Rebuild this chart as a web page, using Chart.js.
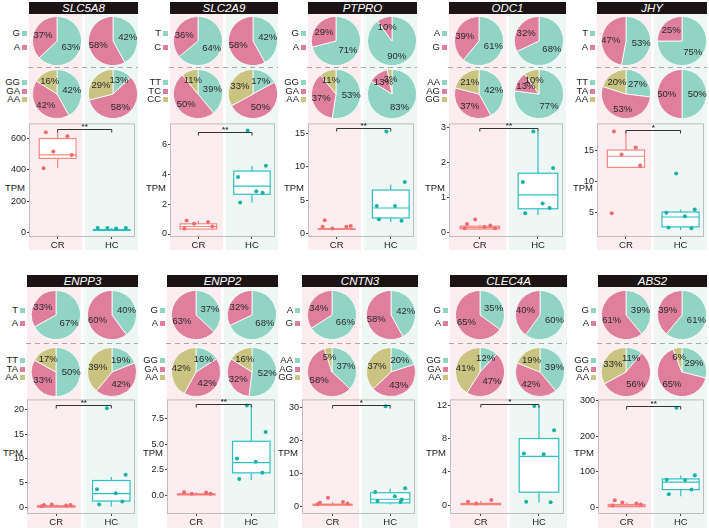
<!DOCTYPE html>
<html><head><meta charset="utf-8">
<script src="https://cdn.jsdelivr.net/npm/chart.js@4.4.0/dist/chart.umd.min.js"></script>
<style>
body{margin:0;background:#fff;}
#root{position:relative;width:709px;height:528px;overflow:hidden;font-family:"Liberation Sans",Arial,sans-serif;background:#fff;}
canvas{display:block;}
</style></head><body><div id="root"></div>
<script>
// ---------------- DATA ----------------
const genes = ["SLC5A8","SLC2A9","PTPRO","ODC1","JHY","ENPP3","ENPP2","CNTN3","CLEC4A","ABS2"];
const groups = ["CR","HC"];
const alleleNames = [["G","A"],["T","C"],["G","A"],["A","G"],["T","A"],["T","A"],["G","A"],["A","G"],["G","A"],["G","A"]];
const genoNames = [["GG","GA","AA"],["TT","TC","CC"],["GG","GA","AA"],["AA","AG","GG"],["TT","TA","AA"],
                   ["TT","TA","AA"],["GG","GA","AA"],["AA","AG","GG"],["GG","GA","AA"],["GG","GA","AA"]];
const alleleCR = [[63,37],[64,36],[71,29],[61,39],[53,47],[67,33],[37,63],[66,34],[35,65],[39,61]];
const alleleHC = [[42,58],[42,58],[90,10],[68,32],[75,25],[40,60],[68,32],[42,58],[60,40],[61,39]];
const genoCR = [[42,42,16],[39,50,11],[53,37,11],[42,37,21],[27,53,20],[50,33,17],[16,42,42],[37,58,5],[12,47,41],[11,56,33]];
const genoHC = [[13,58,29],[17,50,33],[83,13,3],[77,13,10],[50,50,0],[19,42,39],[52,32,16],[20,43,37],[39,42,19],[29,65,6]];
// box stats: [min, q1, median, q3, max]
const boxCR = [[410,473,496,600,640],[0.3,0.33,0.5,0.68,0.9],[0.5,0.6,0.65,0.7,0.8],[0.08,0.1,0.14,0.18,0.22],[12.2,12.2,14.0,15.0,18.0],
               [0.0,0.05,0.2,0.35,0.6],[0.0,0.03,0.08,0.14,0.3],[0.1,0.3,0.45,0.6,1.3],[0.0,0.05,0.12,0.2,0.5],[1,2,4,8,14]];
const boxHC = [[10,12,15,17,27],[2.1,2.65,3.2,4.2,4.55],[1.7,2.3,3.8,6.5,7.3],[0.5,0.68,1.08,1.7,2.9],[2.1,2.6,4.2,5.0,5.4],
               [0.2,1.3,2.8,5.5,6.2],[1.5,2.2,3.2,5.3,8.8],[0.5,1.0,2.1,4.1,5.3],[0.3,1.55,5.85,8.0,11.9],[31,50,71,80,90]];
const ptsCR = [[640,615,517,494,410],[0.9,0.8,0.68,0.5,0.37],[1.98,1.0,0.74,1.09,1.0],[0.24,0.2,0.37,0.12,0.12,0.16],[18.0,15.4,14.3,12.5,4.8],
               [0.5,0.4,0.6,0.5,0.3],[0.3,0.26,0.16,0.16],[1.0,1.3,2.6,0.8,0.6],[0.4,0.6,0.2],[20,11,14,8,5]];
const ptsHC = [[27,27,27,25],[6.9,4.55,3.8,2.85,2.75,2.1],[15.3,7.7,4.1,4.1,1.9,2.1],[2.9,1.85,1.45,0.83,0.7,0.55],[11.2,5.4,4.9,4.3,2.4,2.5],
               [20.3,6.7,3.7,2.9,1.2,0.6],[8.8,6.2,3.6,3.3,2.2,1.6],[30.5,5.5,4.3,3.0,2.0,1.6,1.3],[11.9,9.0,6.2,6.1,0.35,0.4],[280,90,78,77,50,37]];
const yMin = [-30,-0.2,-0.55,-0.13,0.97,-1.35,-1.84,-2.4,-1.07,-18.6];
const yMax = [697,7.38,16.5,3.13,19.3,22.1,9.41,32.6,12.7,303.6];
const yTicks = [[0,200,400,600],[0,2,4,6],[0,5,10,15],[0,1,2,3],[5,10,15],[0,5,10,15,20],[0,2.5,5,7.5],[0,10,20,30],[0,4,8,12],[0,100,200,300]];
const yDecimals = [0,0,0,0,0,0,1,0,0,0];
const sigLabel = ["**","**","**","**","*","**","**","*","*","**"];
const sigY = [661,6.8,15.75,3.0,18.3,20.9,8.95,31.0,12.1,286];
const yTitle = "TPM";

// ---------------- STYLE / LAYOUT ----------------
const FONT = '"Liberation Sans", Arial, sans-serif';
const PIE_COLORS = ['#92d4c4','#df7e9d','#c9c482'];
const BG_CR = '#fcedf0', BG_HC = '#eef7f4';
const BOX_CR = 'rgba(246,118,112,0.85)', BOX_HC = '#2fbfc5';
const PT_CR = '#ee6b6e', PT_HC = '#17b1a6';
const JIT = [-0.22,0.18,-0.08,0.26,-0.26,0.08,0.2];
const ROWS = [
  {title:2, pie1:41, dash:67, pie2:94, leg1:[33,47], leg2:[82,91,99], boxTop:122, boxBot:237, bgTop:14, bgBot:250, tpm:188},
  {title:275, pie1:315, dash:343, pie2:372, leg1:[310,323], leg2:[360,368.5,377], boxTop:398, boxBot:514, bgTop:287, bgBot:528, tpm:453}
];
const PANELS = [[29,109],[170,108],[308,109],[449,117],[597,110],[27,111],[167,111],[302,116],[450,117],[598,109]];

const root = document.getElementById('root');
function el(tag, style, html){
  const e = document.createElement(tag);
  e.style.cssText = 'position:absolute;' + style;
  if (html !== undefined) e.textContent = html;
  root.appendChild(e); return e;
}

const pieLabels = {
  id:'pieLabels',
  afterDatasetsDraw(chart){
    const ctx = chart.ctx, ds = chart.data.datasets[0];
    chart.getDatasetMeta(0).data.forEach((arc,i)=>{
      const v = ds.data[i]; if (!v) return;
      const a = (arc.startAngle + arc.endAngle)/2;
      const r = arc.outerRadius * 0.62;
      ctx.save();
      ctx.font = '9.5px ' + FONT; ctx.fillStyle = '#2a2a2a';
      ctx.textAlign = 'center'; ctx.textBaseline = 'middle';
      ctx.fillText(v + '%', arc.x + Math.cos(a)*r, arc.y + Math.sin(a)*r + 0.5);
      ctx.restore();
    });
  }
};

function pie(cx, cy, vals){
  const c = document.createElement('canvas');
  c.width = 54; c.height = 54;
  c.style.cssText = `position:absolute;left:${cx-27}px;top:${cy-27}px;width:54px;height:54px`;
  root.appendChild(c);
  new Chart(c, {
    type:'pie',
    data:{labels:vals.map((_,k)=>String(k)), datasets:[{data:vals, backgroundColor:PIE_COLORS.slice(0,vals.length), borderColor:'#fff', borderWidth:0.8}]},
    options:{responsive:false, animation:false, devicePixelRatio:1, layout:{padding:2},
      plugins:{legend:{display:false}, tooltip:{enabled:false}}},
    plugins:[pieLabels]
  });
}

function legend(text, color, px, y){
  const d = el('div', `left:${px-44}px;top:${y-5}px;width:42px;height:10px;line-height:10px;text-align:right;font-size:9.5px;color:#1a1a1a;white-space:nowrap`);
  d.textContent = text;
  const s = document.createElement('span');
  s.style.cssText = `display:inline-block;width:5px;height:5px;margin-left:2px;vertical-align:0px;background:${color}`;
  d.appendChild(s);
}

const boxPlugin = {
  id:'boxes',
  beforeDatasetsDraw(chart){
    const {ctx, chartArea:a, scales:{x,y}} = chart;
    const o = chart.options.plugins.boxes;
    ctx.save();
    ctx.strokeStyle = '#bdbdbd'; ctx.lineWidth = 1;
    ctx.strokeRect(a.left+0.5, a.top+0.5, a.right-a.left-1, a.bottom-a.top-1);
    [[1,o.cr,BOX_CR],[2,o.hc,BOX_HC]].forEach(([xv,b,col])=>{
      const xc = x.getPixelForValue(xv);
      const hw = x.getPixelForValue(xv+0.34) - xc;
      const [mn,q1,md,q3,mx] = b.map(v=>y.getPixelForValue(v));
      ctx.strokeStyle = col; ctx.lineWidth = 1.2;
      ctx.beginPath(); ctx.moveTo(xc,q3); ctx.lineTo(xc,mx); ctx.moveTo(xc,q1); ctx.lineTo(xc,mn); ctx.stroke();
      ctx.fillStyle = '#fff'; ctx.fillRect(xc-hw, q3, 2*hw, q1-q3);
      ctx.strokeRect(xc-hw, q3, 2*hw, q1-q3);
      ctx.beginPath(); ctx.moveTo(xc-hw,md); ctx.lineTo(xc+hw,md); ctx.stroke();
    });
    ctx.restore();
  },
  afterDatasetsDraw(chart){
    const {ctx, scales:{x,y}} = chart;
    const o = chart.options.plugins.boxes;
    const x1 = x.getPixelForValue(1), x2 = x.getPixelForValue(2), yy = Math.round(y.getPixelForValue(o.sigY))+0.5;
    ctx.save();
    ctx.strokeStyle = '#333'; ctx.lineWidth = 1;
    ctx.beginPath(); ctx.moveTo(x1,yy+3); ctx.lineTo(x1,yy); ctx.lineTo(x2,yy); ctx.lineTo(x2,yy+3); ctx.stroke();
    ctx.fillStyle = '#333'; ctx.font = 'bold 8px ' + FONT; ctx.textAlign = 'center'; ctx.textBaseline = 'bottom';
    ctx.fillText(o.sig, (x1+x2)/2, yy+1);
    ctx.restore();
  }
};

function boxChart(i, px, pw, R){
  const padTop = 5, yw = 28, xh = 14;
  const c = document.createElement('canvas');
  const W = pw + yw + 1, H = (R.boxBot - R.boxTop) + padTop + xh;
  c.width = W; c.height = H;
  c.style.cssText = `position:absolute;left:${px-yw}px;top:${R.boxTop-padTop}px;width:${W}px;height:${H}px`;
  root.appendChild(c);
  const dec = yDecimals[i];
  new Chart(c, {
    type:'scatter',
    data:{datasets:[
      {data:ptsCR[i].map((v,k)=>({x:1+JIT[k%JIT.length], y:v})), backgroundColor:PT_CR, borderWidth:0, pointRadius:2},
      {data:ptsHC[i].map((v,k)=>({x:2+JIT[(k+2)%JIT.length], y:v})), backgroundColor:PT_HC, borderWidth:0, pointRadius:2}
    ]},
    options:{
      responsive:false, animation:false, devicePixelRatio:1,
      layout:{padding:{top:padTop, right:1, left:0, bottom:0}},
      plugins:{legend:{display:false}, tooltip:{enabled:false},
        boxes:{cr:boxCR[i], hc:boxHC[i], sig:sigLabel[i], sigY:sigY[i]}},
      scales:{
        x:{type:'linear', min:0.47, max:2.43,
          afterBuildTicks:a=>{a.ticks=[{value:1},{value:2}];},
          afterFit:a=>{a.height=xh;},
          ticks:{callback:v=>groups[Math.round(v)-1], font:{size:9.5, family:FONT}, color:'#222', padding:1, maxRotation:0, autoSkip:false},
          grid:{display:true, drawOnChartArea:false, drawTicks:true, tickLength:2, color:'#444'},
          border:{display:false}},
        y:{type:'linear', min:yMin[i], max:yMax[i],
          afterBuildTicks:a=>{a.ticks=yTicks[i].map(v=>({value:v}));},
          afterFit:a=>{a.width=yw;},
          ticks:{callback:v=>Number(v).toFixed(dec), font:{size:9, family:FONT}, color:'#222', padding:1, autoSkip:false},
          grid:{display:true, drawOnChartArea:false, drawTicks:true, tickLength:2, color:'#444'},
          border:{display:false}}
      }
    },
    plugins:[boxPlugin]
  });
}

genes.forEach((g,i)=>{
  const R = ROWS[i<5?0:1];
  const [px,pw] = PANELS[i];
  el('div', `left:${px}px;top:${R.bgTop}px;width:${pw*0.49}px;height:${R.bgBot-R.bgTop}px;background:${BG_CR}`);
  el('div', `left:${px+pw*0.515}px;top:${R.bgTop}px;width:${pw*0.485}px;height:${R.bgBot-R.bgTop}px;background:${BG_HC}`);
  el('div', `left:${px}px;top:${R.title}px;width:${pw}px;height:12px;line-height:12px;background:#1c1414;color:#fff;font-style:italic;font-size:11.5px;text-align:center`, g);
  el('div', `left:${px-1}px;top:${R.dash}px;width:${pw+1}px;height:1px;background:repeating-linear-gradient(to right,#a8a8a8 0 5px,transparent 5px 9px)`);
  alleleNames[i].forEach((n,k)=>legend(n, PIE_COLORS[k], px, R.leg1[k]));
  genoNames[i].forEach((n,k)=>legend(n, PIE_COLORS[k], px, R.leg2[k]));
  pie(px+pw*0.26, R.pie1, alleleCR[i]);
  pie(px+pw*0.77, R.pie1, alleleHC[i]);
  pie(px+pw*0.26, R.pie2, genoCR[i]);
  pie(px+pw*0.77, R.pie2, genoHC[i]);
  el('div', `left:${px-42}px;top:${R.tpm-6}px;width:38px;height:12px;line-height:12px;text-align:right;font-size:9.5px;color:#1a1a1a`, yTitle);
  boxChart(i, px, pw, R);
});
</script></body></html>
